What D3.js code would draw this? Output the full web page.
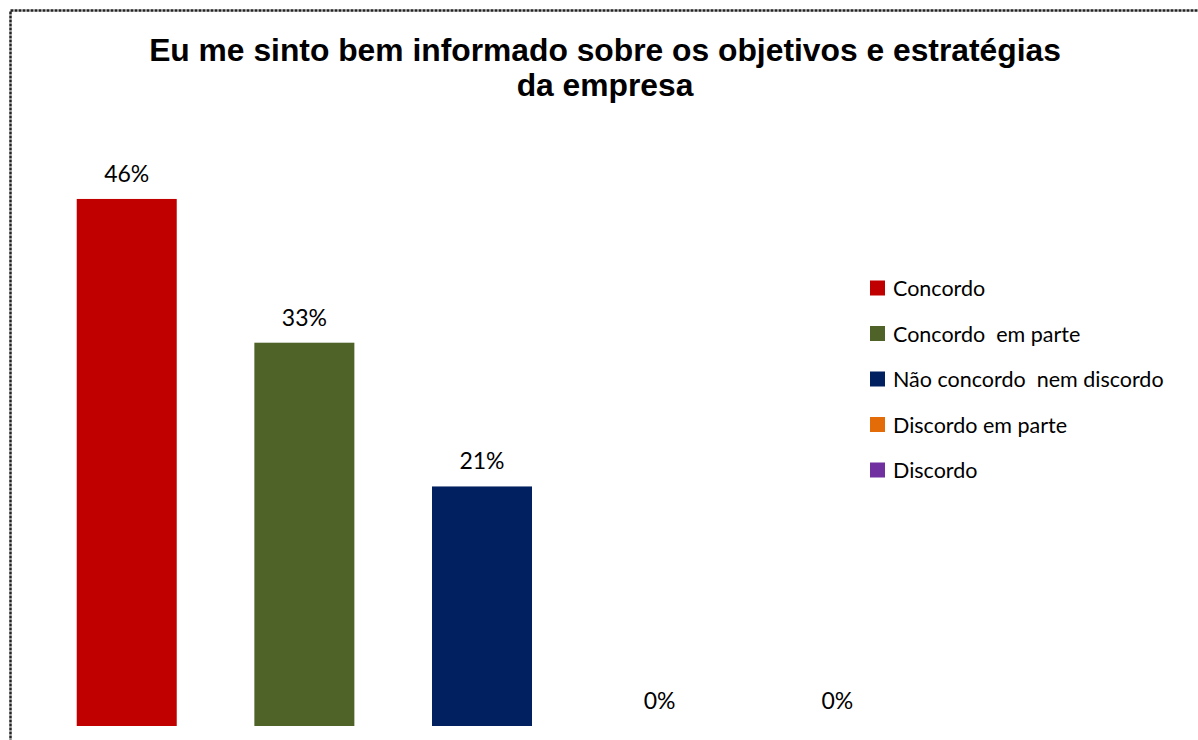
<!DOCTYPE html>
<html><head><meta charset="utf-8">
<script src="https://cdn.jsdelivr.net/npm/d3@7"></script>
<style>html,body{margin:0;padding:0;background:#fff;}svg{display:block;}</style>
</head><body>
<svg id="chart" width="1198" height="740"></svg>
<script>
const categories = ["Concordo", "Concordo  em parte", "Não concordo  nem discordo", "Discordo em parte", "Discordo"];
const values = [45.83, 33.33, 20.83, 0, 0];
const valueLabels = ["46%", "33%", "21%", "0%", "0%"];
const colors = ["#C00000", "#4F6228", "#002060", "#E36C09", "#7030A0"];
const titleLines = ["Eu me sinto bem informado sobre os objetivos e estratégias", "da empresa"];

const svg = d3.select("#chart");
svg.append("rect").attr("x", 10.5).attr("y", 10.5).attr("width", 1200).attr("height", 760)
  .attr("fill", "none").attr("stroke", "#222").attr("stroke-width", 2.5).attr("stroke-dasharray", "3,1");

const x = d3.scaleBand().domain(categories).range([38, 926]).paddingInner(0.437).paddingOuter(0.218);
const y = d3.scaleLinear().domain([0, 50]).range([726, 151]);

svg.selectAll(".title").data(titleLines).enter().append("text")
  .attr("x", 605).attr("y", (d, i) => 61 + i * 35)
  .attr("text-anchor", "middle").attr("font-family", "Liberation Sans, Arial, sans-serif")
  .attr("font-weight", "bold").attr("font-size", 31.8).attr("fill", "#000").text(d => d);

svg.selectAll(".bar").data(values).enter().append("rect")
  .attr("x", (d, i) => x(categories[i])).attr("width", x.bandwidth())
  .attr("y", d => y(d)).attr("height", d => y(0) - y(d)).attr("fill", (d, i) => colors[i]);

svg.selectAll(".lbl").data(values).enter().append("text")
  .attr("x", (d, i) => x(categories[i]) + x.bandwidth() / 2).attr("y", d => y(d) - 17)
  .attr("text-anchor", "middle").attr("font-family", "Lato, sans-serif").attr("font-size", 23)
  .attr("fill", "#000").text((d, i) => valueLabels[i]);

const leg = svg.selectAll(".leg").data(categories).enter().append("g")
  .attr("transform", (d, i) => `translate(870, ${288 + i * 45.5})`);
leg.append("rect").attr("x", 0).attr("y", -7.5).attr("width", 15).attr("height", 15).attr("fill", (d, i) => colors[i]);
leg.append("text").attr("x", 23).attr("y", 8).attr("font-family", "Lato, sans-serif").attr("font-size", 21.5)
  .attr("fill", "#000").style("white-space", "pre").attr("xml:space", "preserve").text(d => d);
</script>
</body></html>
